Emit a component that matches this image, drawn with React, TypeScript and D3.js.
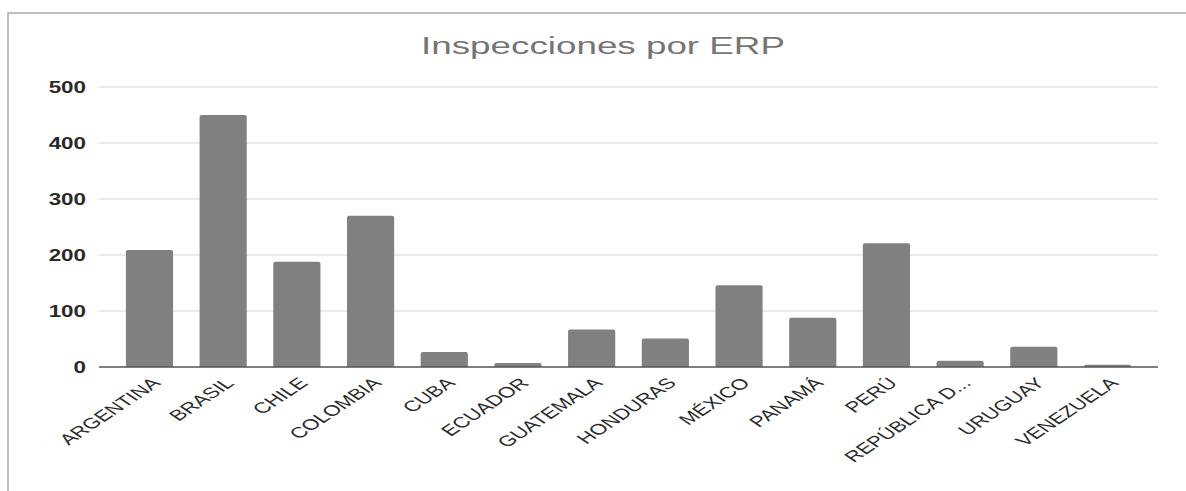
import { useEffect, useRef } from "react";
import * as d3 from "d3";

const categories = [
  "ARGENTINA", "BRASIL", "CHILE", "COLOMBIA", "CUBA", "ECUADOR", "GUATEMALA",
  "HONDURAS", "MÉXICO", "PANAMÁ", "PERÚ", "REPÚBLICA D...", "URUGUAY", "VENEZUELA"
];
const inspecciones = [209, 450, 188, 270, 27, 7, 67, 51, 146, 88, 221, 11, 36, 4];
const yTicks = [0, 100, 200, 300, 400, 500];
const title = "Inspecciones por ERP";

export default function App() {
  const svgRef = useRef<SVGSVGElement>(null);
  const width = 1186;
  const height = 491;

  useEffect(() => {
    if (!svgRef.current) return;
    const svg = d3.select(svgRef.current);
    svg.selectAll("*").remove();

    const font = "'Liberation Sans', Arial, sans-serif";
    const plot = { left: 99, right: 1158, top: 87, bottom: 367 };
    // the picture is stretched sideways, so text gets a horizontal scale
    const stretch = 1.5;

    // Card border
    svg.append("rect")
      .attr("x", 8).attr("y", 13)
      .attr("width", 1200).attr("height", 500)
      .attr("fill", "#fff")
      .attr("stroke", "#a8a8a8")
      .attr("stroke-width", 1.5);

    const x = d3.scaleBand<string>()
      .domain(categories)
      .range([plot.left, plot.right])
      .paddingInner(0.36)
      .paddingOuter(0.365);

    const y = d3.scaleLinear()
      .domain([0, 500])
      .range([plot.bottom, plot.top]);

    // Title
    svg.append("text")
      .attr("transform", `translate(603,54) scale(1.6,1)`)
      .attr("text-anchor", "middle")
      .attr("fill", "#757575")
      .attr("font-family", font)
      .attr("font-size", "23px")
      .text(title);

    // Gridlines
    svg.append("g")
      .selectAll("line")
      .data(yTicks.filter(t => t > 0))
      .join("line")
      .attr("x1", plot.left).attr("x2", plot.right)
      .attr("y1", d => y(d)).attr("y2", d => y(d))
      .attr("stroke", "#d6d6d6")
      .attr("stroke-width", 1);

    // Y labels
    svg.append("g")
      .selectAll("text")
      .data(yTicks)
      .join("text")
      .attr("transform", d => `translate(86,${y(d) + 6}) scale(1.4,1)`)
      .attr("text-anchor", "end")
      .attr("fill", "#2a2a2a")
      .attr("font-family", font)
      .attr("font-weight", "bold")
      .attr("font-size", "16px")
      .text(d => d);

    // Bars with rounded tops
    const r = 2;
    svg.append("g")
      .selectAll("path")
      .data(inspecciones)
      .join("path")
      .attr("fill", "#808080")
      .attr("d", (d, i) => {
        const x0 = x(categories[i])!;
        const w = x.bandwidth();
        const y0 = y(d);
        const y1 = y(0);
        const rr = Math.min(r, (y1 - y0));
        return `M${x0},${y1}V${y0 + rr}Q${x0},${y0} ${x0 + rr},${y0}H${x0 + w - rr}Q${x0 + w},${y0} ${x0 + w},${y0 + rr}V${y1}Z`;
      });

    // Baseline
    svg.append("line")
      .attr("x1", plot.left).attr("x2", plot.right)
      .attr("y1", y(0)).attr("y2", y(0))
      .attr("stroke", "#555")
      .attr("stroke-width", 1.5);

    // X labels
    svg.append("g")
      .selectAll("text")
      .data(categories)
      .join("text")
      .attr("transform", d => `translate(${x(d)! + x.bandwidth() / 2 + 12},${y(0) + 17}) scale(${stretch},1) rotate(-45)`)
      .attr("text-anchor", "end")
      .attr("fill", "#2a2a2a")
      .attr("font-family", font)
      .attr("font-size", "15px")
      .text(d => d);
  }, []);

  return (
    <svg
      ref={svgRef}
      width={width}
      height={height}
      style={{ position: "absolute", left: 0, top: 0, background: "#fff" }}
    />
  );
}
